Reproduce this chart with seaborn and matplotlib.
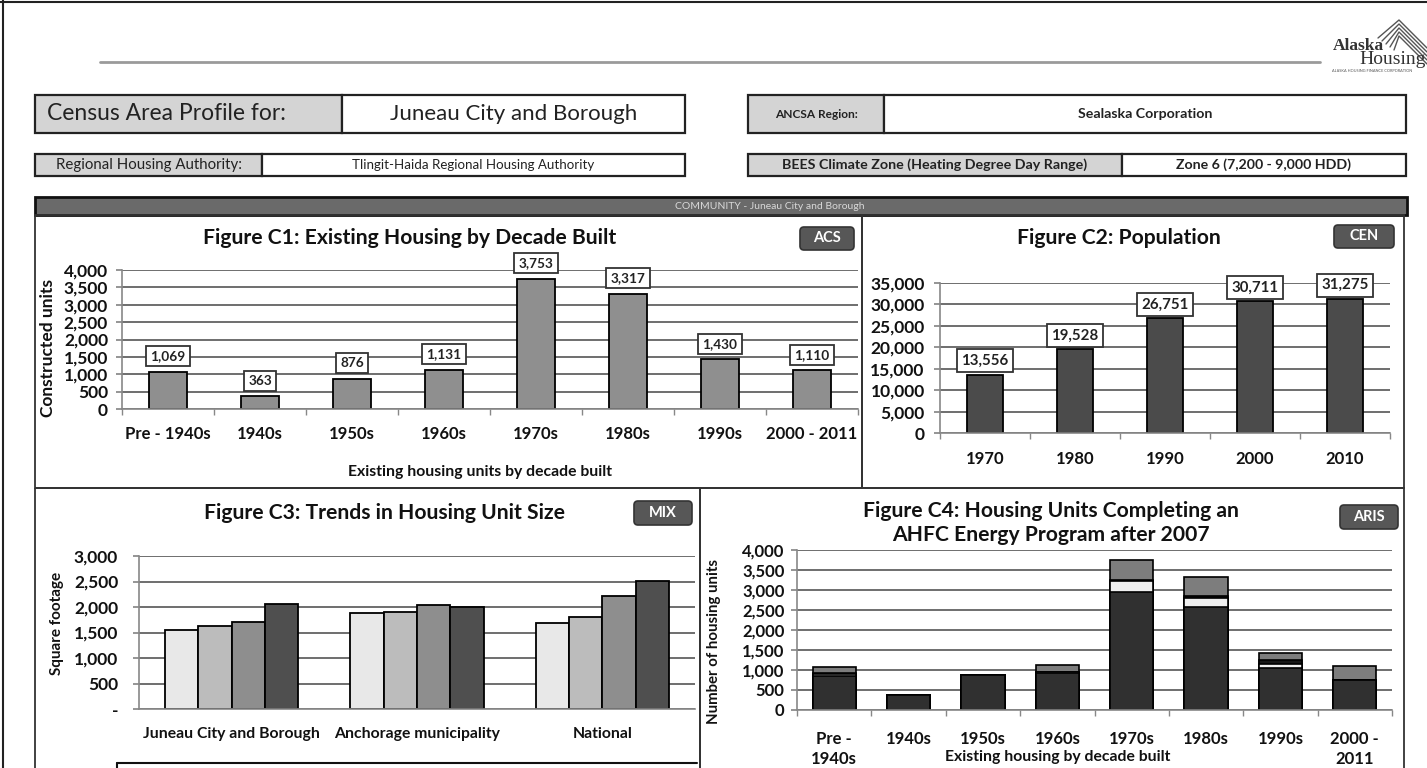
import matplotlib
matplotlib.use("Agg")
import matplotlib.pyplot as plt
from matplotlib.patches import Rectangle, FancyBboxPatch
from matplotlib.ticker import FuncFormatter, FixedLocator
import seaborn as sns
import pandas as pd
import numpy as np

# --- data ---
c1_decades = ["Pre - 1940s", "1940s", "1950s", "1960s", "1970s", "1980s", "1990s", "2000 - 2011"]
c1_units = [1069, 363, 876, 1131, 3753, 3317, 1430, 1110]

c2_years = ["1970", "1980", "1990", "2000", "2010"]
c2_population = [13556, 19528, 26751, 30711, 31275]

c3_areas = ["Juneau City and Borough", "Anchorage municipality", "National"]
c3_series = ["Series 1", "Series 2", "Series 3", "Series 4"]
c3_juneau = [1550, 1630, 1710, 2060]
c3_anchorage = [1880, 1900, 2040, 2000]
c3_national = [1690, 1800, 2220, 2510]

c4_decades = ["Pre -\n1940s", "1940s", "1950s", "1960s", "1970s", "1980s", "1990s", "2000 -\n2011"]
c4_base = [840, 363, 876, 920, 2960, 2580, 1060, 750]
c4_light = [50, 0, 0, 30, 275, 210, 90, 0]
c4_black = [30, 0, 0, 10, 20, 60, 100, 0]
c4_gray = [149, 0, 0, 171, 498, 467, 180, 360]

W, H = 1427, 768
FONT = ["Lato", "DejaVu Sans"]

sns.set_theme(style="white")
plt.rcParams["font.family"] = FONT
plt.rcParams["axes.unicode_minus"] = False

fig = plt.figure(figsize=(W / 100, H / 100), dpi=100)
fig.patch.set_facecolor("white")


def rect(x0, y0, x1, y1):
    # pixel box (top-left origin) -> figure fraction
    return [x0 / W, 1 - y1 / H, (x1 - x0) / W, (y1 - y0) / H]


# background layer for the page furniture
bg = fig.add_axes([0, 0, 1, 1])
bg.set_xlim(0, W)
bg.set_ylim(H, 0)
bg.axis("off")

# page frame and header rule
bg.plot([3, 3], [0, H], color="#222", lw=1.5)
bg.plot([0, W], [1.5, 1.5], color="#222", lw=1.5)
bg.plot([100, 1320], [62, 62], color="#9a9a9a", lw=2)

# logo
for k in range(5):
    bg.plot([1378 + k * 4, 1399, 1427], [38 + k * 3, 20 + k * 4, 48 + k * 4], color="#555", lw=1)
bg.text(1358, 46, "Alaska", fontsize=12.5, family="Liberation Serif", weight="bold", color="#333",
        ha="center", va="center")
bg.text(1426, 60, "Housing", fontsize=14, family="Liberation Serif", color="#333", ha="right", va="center")
bg.text(1372, 71, "ALASKA HOUSING FINANCE CORPORATION", fontsize=2.8, color="#555", ha="center", va="center")


def header_box(x0, x1, xd, y0, y1, left, right, fs_l, fs_r, w_l="normal", w_r="normal", left_pad=None):
    bg.add_patch(Rectangle((x0, y0), xd - x0, y1 - y0, fc="#d4d4d4", ec="#222", lw=1.6))
    bg.add_patch(Rectangle((xd, y0), x1 - xd, y1 - y0, fc="white", ec="#222", lw=1.6))
    if left_pad is None:
        bg.text((x0 + xd) / 2, (y0 + y1) / 2, left, fontsize=fs_l, weight=w_l, ha="center", va="center", color="#222")
    else:
        bg.text(x0 + left_pad, (y0 + y1) / 2, left, fontsize=fs_l, weight=w_l, ha="left", va="center", color="#222")
    bg.text((xd + x1) / 2, (y0 + y1) / 2, right, fontsize=fs_r, weight=w_r, ha="center", va="center", color="#222")


header_box(35, 685, 342, 95, 133, "Census Area Profile for:", "Juneau City and Borough", 16.5, 16, left_pad=12)
header_box(748, 1406, 884, 95, 133, "ANCSA Region:", "Sealaska Corporation", 8.6, 10.2, "bold", "bold")
header_box(35, 685, 262, 154, 176, "Regional Housing Authority:", "Tlingit-Haida Regional Housing Authority", 10.8, 9.6)
header_box(748, 1406, 1122, 154, 176, "BEES Climate Zone (Heating Degree Day Range)", "Zone 6 (7,200 - 9,000 HDD)",
           10.3, 10.2, "bold", "bold")

# community banner
bg.add_patch(Rectangle((35, 197), 1372, 18, fc="#6a6a6a", ec="#111", lw=2))
bg.text(770, 206.5, "COMMUNITY - Juneau City and Borough", fontsize=7.5, color="#d8d8d8", ha="center", va="center")

# panel frames
for (x0, y0, x1, y1) in [(35, 215, 862, 488), (862, 215, 1404, 488), (35, 488, 700, 770), (700, 488, 1404, 770)]:
    bg.add_patch(Rectangle((x0, y0), x1 - x0, y1 - y0, fc="none", ec="#333", lw=1.3))
bg.plot([117, 697], [763, 763], color="#111", lw=1.5)
bg.plot([117, 117], [763, 768], color="#111", lw=1.5)


def badge(x0, y0, x1, y1, s):
    bg.add_patch(FancyBboxPatch((x0, y0), x1 - x0, y1 - y0, boxstyle="round,pad=0,rounding_size=4",
                                fc="#575757", ec="#333", lw=1.2))
    bg.text((x0 + x1) / 2, (y0 + y1) / 2, s, fontsize=10.5, weight="bold", color="white", ha="center", va="center")


badge(800, 227, 854, 250, "ACS")
badge(1334, 225, 1394, 248, "CEN")
badge(634, 501, 692, 525, "MIX")
badge(1340, 505, 1398, 529, "ARIS")

# titles and axis titles
tkw = dict(fontsize=15.2, weight="bold", ha="center", va="center", color="#111")
bg.text(410, 238, "Figure C1: Existing Housing by Decade Built", **tkw)
bg.text(1119, 238, "Figure C2: Population", **tkw)
bg.text(384, 513, "Figure C3: Trends in Housing Unit Size", **tkw)
bg.text(1051, 511, "Figure C4: Housing Units Completing an", **tkw)
bg.text(1051, 535, "AHFC Energy Program after 2007", **tkw)
bg.text(480, 472, "Existing housing units by decade built", fontsize=11.3, weight="bold", ha="center", va="center",
        color="#111")
bg.text(1058, 757, "Existing housing by decade built", fontsize=11.3, weight="bold", ha="center", va="center",
        color="#111")
bg.text(48, 348, "Constructed units", fontsize=12.5, weight="bold", rotation=90, ha="center", va="center", color="#111")
bg.text(57, 623, "Square footage", fontsize=11, weight="bold", rotation=90, ha="center", va="center", color="#111")
bg.text(714, 641, "Number of housing units", fontsize=10.8, weight="bold", rotation=90, ha="center", va="center",
        color="#111")


def style_axes(ax, ymax, step, ypad, ysize=12.5, xsize=12, xpad=12, dash_zero=False, ncat=None):
    ax.set_ylim(0, ymax)
    ax.yaxis.set_major_locator(FixedLocator(np.arange(0, ymax + 1, step)))
    fmt = (lambda v, p: "-" if v == 0 else f"{int(v):,}") if dash_zero else (lambda v, p: f"{int(v):,}")
    ax.yaxis.set_major_formatter(FuncFormatter(fmt))
    ax.grid(axis="y", color="#555", lw=1.2)
    ax.set_axisbelow(True)
    for s in ["top", "right"]:
        ax.spines[s].set_visible(False)
    for s in ["left", "bottom"]:
        ax.spines[s].set_color("#888")
        ax.spines[s].set_linewidth(1.2)
    ax.tick_params(axis="y", labelsize=ysize, length=4, color="#888", pad=ypad, left=True)
    ax.tick_params(axis="x", labelsize=xsize, length=0, pad=xpad)
    if ncat:
        # small marks between categories, as in the spreadsheet axis
        ax.set_xticks(np.arange(-0.5, ncat), minor=True)
        ax.tick_params(axis="x", which="minor", length=4, color="#888", bottom=True)
    for lab in ax.get_xticklabels() + ax.get_yticklabels():
        lab.set_fontweight("bold")
        lab.set_color("#111")
    ax.set_xlabel("")
    ax.set_ylabel("")
    ax.set_facecolor("white")


def label_bars(ax, values, fs, off):
    for i, v in enumerate(values):
        ax.annotate(f"{v:,}", (i, v), xytext=(0, off), textcoords="offset points", ha="center", va="bottom",
                    fontsize=fs, weight="bold", color="#222", annotation_clip=False,
                    bbox=dict(boxstyle="square,pad=0.3", fc="white", ec="#333", lw=1.3))


# Figure C1
ax1 = fig.add_axes(rect(122, 270, 858, 409))
sns.barplot(x=c1_decades, y=c1_units, color="#8f8f8f", width=0.41, edgecolor="black", linewidth=1.3, ax=ax1)
style_axes(ax1, 4000, 500, ypad=6, ncat=len(c1_decades))
label_bars(ax1, c1_units, 9.8, 7)

# Figure C2
ax2 = fig.add_axes(rect(940, 283, 1390, 433))
sns.barplot(x=c2_years, y=c2_population, color="#4b4b4b", width=0.41, edgecolor="black", linewidth=1.3, ax=ax2)
style_axes(ax2, 35000, 5000, ypad=7, xpad=13, ncat=len(c2_years))
label_bars(ax2, c2_population, 10.8, 5)

# Figure C3
c3_df = pd.DataFrame({
    "area": np.repeat(c3_areas, len(c3_series)),
    "series": c3_series * len(c3_areas),
    "sqft": c3_juneau + c3_anchorage + c3_national,
})
ax3 = fig.add_axes(rect(139, 556, 695, 709))
sns.barplot(data=c3_df, x="area", y="sqft", hue="series", palette=["#e8e8e8", "#bcbcbc", "#8e8e8e", "#4f4f4f"],
            width=0.72, edgecolor="black", linewidth=1.3, legend=False, ax=ax3)
style_axes(ax3, 3000, 500, ypad=11, xsize=11.3, xpad=13, dash_zero=True)

# Figure C4 (stacked: draw cumulative totals from top down)
ax4 = fig.add_axes(rect(797, 550, 1392, 710))
segments = [c4_base, c4_light, c4_black, c4_gray]
seg_colors = ["#303030", "#efefef", "#161616", "#7d7d7d"]
cum = np.cumsum(np.array(segments), axis=0)
for k in range(len(segments) - 1, -1, -1):
    sns.barplot(x=c4_decades, y=cum[k], color=seg_colors[k], width=0.58, edgecolor="black",
                linewidth=1.2, ax=ax4)
style_axes(ax4, 4000, 500, ypad=5, ysize=12, xpad=15, ncat=len(c4_decades))
for lab in ax4.get_xticklabels():
    lab.set_linespacing(1.3)

fig.savefig("out.png", dpi=100, facecolor="white")
